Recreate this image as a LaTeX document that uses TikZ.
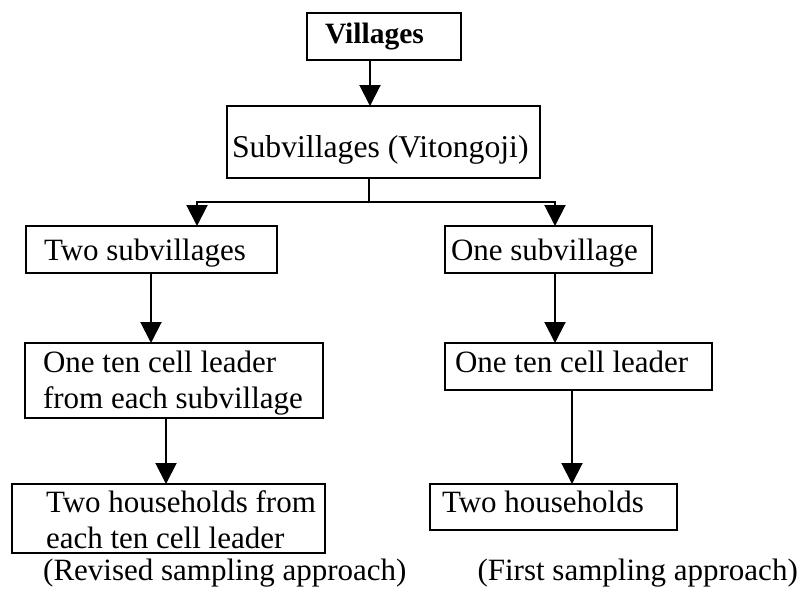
\documentclass[tikz,border=0pt]{standalone}
\usepackage{fontspec}
\setmainfont{Liberation Serif}
\usetikzlibrary{arrows.meta}
\begin{document}
\begin{tikzpicture}[x=1pt,y=-1pt,
  box/.style={draw, line width=2.3pt, rectangle, anchor=north west, outer sep=0pt,
    inner ysep=0pt, align=left, font=\fontsize{31}{36.5}\selectfont,
    execute at begin node={\spaceskip=0pt\xspaceskip=0pt\relax}},
  captiontext/.style={inner sep=0pt, font=\fontsize{31}{36.5}\selectfont},
  conn/.style={line width=2pt},
  arr/.style={conn, -{Triangle[length=21pt,width=21pt]}},
  ]
\useasboundingbox (0,0) rectangle (804,592);

% boxes
\node[box, inner xsep=18pt, text width=118pt, text height=30pt, text depth=17pt,
  font=\fontsize{29.5}{35}\selectfont\bfseries] (vil) at (307,13) {Villages};
\node[box, inner xsep=5pt, text width=303pt, text height=51pt, text depth=21pt,
  font=\fontsize{31.7}{37}\selectfont]
  (sub) at (227,106) {\mbox{Subvillages (Vitongoji)}};
\node[box, inner xsep=18pt, text width=215pt, text height=34pt, text depth=13pt]
  (two) at (26,226) {\mbox{Two subvillages}};
\node[box, inner xsep=6pt, text width=195pt, text height=34pt, text depth=13pt]
  (one) at (445,226) {\mbox{One subvillage}};
\node[box, inner xsep=18pt, text width=262pt, text height=29pt, text depth=46pt]
  (leadtwo) at (25,343) {\mbox{One ten cell leader}\\\mbox{from each subvillage}};
\node[box, inner xsep=10pt, text width=247pt, text height=29pt, text depth=18pt]
  (leadone) at (445,343) {\mbox{One ten cell leader}};
\node[box, inner xsep=34pt, text width=245pt, text height=28pt, text depth=41pt]
  (hhtwo) at (12,484) {\mbox{Two households from}\\\mbox{each ten cell leader}};
\node[box, inner xsep=12pt, text width=223pt, text height=28pt, text depth=18pt]
  (hhone) at (430,484) {\mbox{Two households}};

% captions
\node[captiontext, anchor=base west] (captwo) at (43,580) {(Revised sampling approach)};
\node[captiontext, anchor=base east] (capone) at (798,580) {(First sampling approach)};

% connector positions
\coordinate (xa) at (370,0);
\coordinate (j) at (369,202);
\coordinate (cl) at (197,202);
\coordinate (cr) at (555,202);
\coordinate (xb) at (151,0);
\coordinate (xc) at (166,0);
\coordinate (xd) at (555,0);
\coordinate (xe) at (572,0);

% connectors
\draw[arr] (vil.south -| xa) -- (sub.north -| xa);
\draw[conn] (sub.south -| j) -- (j);
\draw[conn, {Triangle[length=21pt,width=21pt]}-{Triangle[length=21pt,width=21pt]}]
  (two.north -| cl) -- (cl) -- (cr) -- (one.north -| cr);
\draw[arr] (two.south -| xb) -- (leadtwo.north -| xb);
\draw[arr] (leadtwo.south -| xc) -- (hhtwo.north -| xc);
\draw[arr] (one.south -| xd) -- (leadone.north -| xd);
\draw[arr] (leadone.south -| xe) -- (hhone.north -| xe);
\end{tikzpicture}
\end{document}
